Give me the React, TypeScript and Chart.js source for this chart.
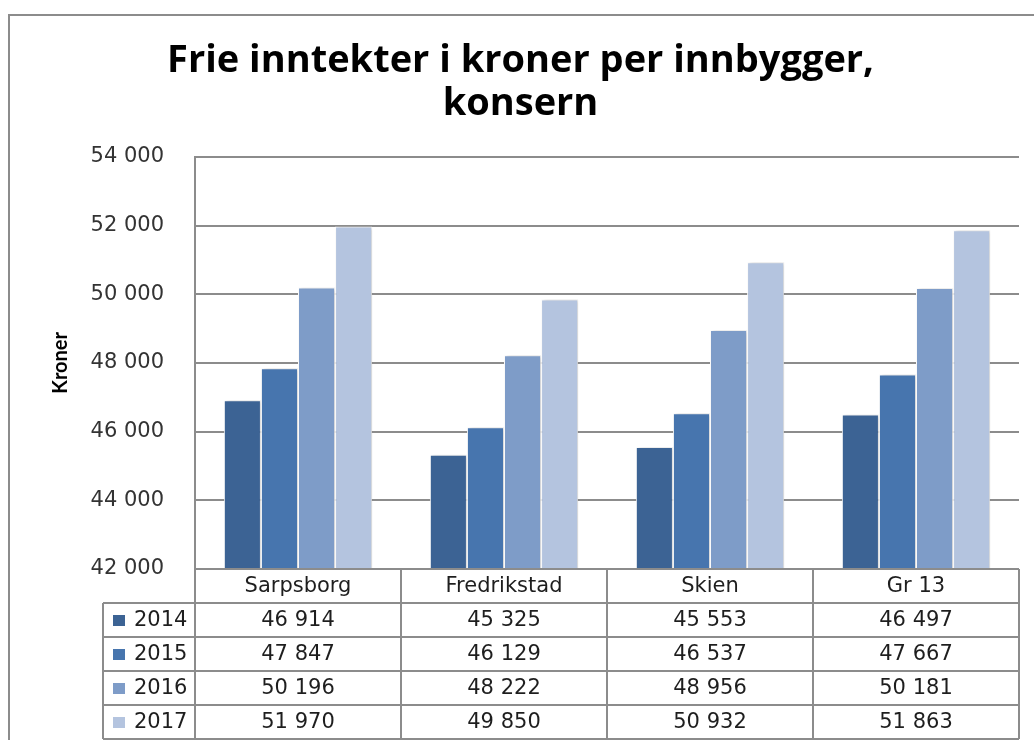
import { useEffect, useRef } from 'react';
import { Chart, registerables } from 'chart.js';

Chart.register(...registerables);

const categories = ['Sarpsborg', 'Fredrikstad', 'Skien', 'Gr 13'];
const seriesLabels = ['2014', '2015', '2016', '2017'];
const values2014 = [46914, 45325, 45553, 46497];
const values2015 = [47847, 46129, 46537, 47667];
const values2016 = [50196, 48222, 48956, 50181];
const values2017 = [51970, 49850, 50932, 51863];
const seriesColors = ['#3C6394', '#4775AE', '#7E9CC8', '#B4C4DF'];
const titleLines = ['Frie inntekter i kroner per innbygger,', 'konsern'];
const yAxisTitle = 'Kroner';
const yMin = 42000;
const yMax = 54000;
const yStep = 2000;

const seriesValues = [values2014, values2015, values2016, values2017];

const fmt = (v: number) => String(Math.round(v)).replace(/\B(?=(\d{3})+(?!\d))/g, ' ');

const LINE = '#8c8c8c';
const TEXT = '#1e1e1e';
const TABLE_FONT = '21px "DejaVu Sans"';

const framePlugin = {
  id: 'frame',
  beforeDraw(chart: any) {
    const { ctx, width, height } = chart;
    ctx.save();
    ctx.fillStyle = '#ffffff';
    ctx.fillRect(0, 0, width, height);
    ctx.restore();
  },
  afterDraw(chart: any) {
    const { ctx, width, height } = chart;
    ctx.save();
    ctx.strokeStyle = LINE;
    ctx.lineWidth = 2;
    ctx.beginPath();
    ctx.moveTo(9, height);
    ctx.lineTo(9, 15);
    ctx.lineTo(width, 15);
    ctx.stroke();
    ctx.restore();
  },
};

const shadowPlugin = {
  id: 'barShadow',
  beforeDatasetsDraw(chart: any) {
    const { ctx } = chart;
    ctx.save();
    ctx.shadowColor = 'rgba(0,0,0,0.18)';
    ctx.shadowBlur = 4;
    ctx.shadowOffsetX = 2;
    ctx.shadowOffsetY = 0;
  },
  afterDatasetsDraw(chart: any) {
    chart.ctx.restore();
  },
};

const tablePlugin = {
  id: 'dataTable',
  afterDraw(chart: any) {
    const { ctx, chartArea, scales } = chart;
    const x = scales.x;
    const n = categories.length;
    const colW = (chartArea.right - chartArea.left) / n;
    const rowH = 34;
    const top = chartArea.bottom;
    const left = chartArea.left;
    const right = chartArea.right;
    const legendLeft = 103;
    const rows = seriesLabels.length;
    const bottom = top + rowH * (rows + 1);

    ctx.save();
    ctx.strokeStyle = LINE;
    ctx.lineWidth = 2;
    ctx.beginPath();
    ctx.moveTo(left, top);
    ctx.lineTo(right, top);
    for (let r = 1; r <= rows + 1; r++) {
      const y = top + r * rowH;
      ctx.moveTo(legendLeft, y);
      ctx.lineTo(right, y);
    }
    ctx.moveTo(legendLeft, top + rowH);
    ctx.lineTo(legendLeft, bottom);
    for (let i = 0; i < n; i++) {
      const cx = x.getPixelForValue(i);
      const xl = cx - colW / 2;
      ctx.moveTo(xl, top);
      ctx.lineTo(xl, bottom);
    }
    ctx.moveTo(right, top);
    ctx.lineTo(right, bottom);
    ctx.stroke();

    ctx.font = TABLE_FONT;
    ctx.fillStyle = TEXT;
    ctx.textBaseline = 'middle';
    ctx.textAlign = 'center';
    for (let i = 0; i < n; i++) {
      const cx = x.getPixelForValue(i);
      ctx.fillText(categories[i], cx, top + rowH / 2 + 1);
      for (let r = 0; r < rows; r++) {
        ctx.fillText(fmt(seriesValues[r][i]), cx, top + (r + 1) * rowH + rowH / 2 + 1);
      }
    }
    ctx.textAlign = 'left';
    for (let r = 0; r < rows; r++) {
      const cy = top + (r + 1) * rowH + rowH / 2;
      ctx.fillStyle = seriesColors[r];
      ctx.fillRect(113, cy - 5, 12, 11);
      ctx.fillStyle = TEXT;
      ctx.fillText(seriesLabels[r], 134, cy + 1);
    }
    ctx.restore();
  },
};

export default function App() {
  const canvasRef = useRef<HTMLCanvasElement | null>(null);

  useEffect(() => {
    const canvas = canvasRef.current;
    if (!canvas) return;
    const chart = new Chart(canvas, {
      type: 'bar',
      data: {
        labels: categories,
        datasets: seriesLabels.map((label, i) => ({
          label,
          data: seriesValues[i],
          backgroundColor: seriesColors[i],
          borderColor: '#ffffff',
          borderWidth: 1,
          categoryPercentage: 0.72,
          barPercentage: 1,
        })),
      },
      options: {
        animation: false,
        responsive: false,
        devicePixelRatio: 1,
        layout: { padding: { left: 22, right: 15, top: 0, bottom: 171 } },
        plugins: {
          legend: { display: false },
          tooltip: { enabled: false },
          title: {
            display: true,
            text: titleLines,
            color: '#000000',
            font: { family: '"Open Sans"', weight: 'bold', size: 38, lineHeight: 1.13 },
            padding: { top: 40, bottom: 31 },
          },
        },
        scales: {
          x: {
            display: false,
          },
          y: {
            min: yMin,
            max: yMax,
            afterFit(scale: any) {
              scale.width = 173;
            },
            ticks: {
              stepSize: yStep,
              padding: 31,
              color: '#333333',
              font: { family: 'DejaVu Sans', size: 21 },
              callback: (v: any) => fmt(Number(v)),
            },
            grid: {
              color: LINE,
              lineWidth: 2,
              drawTicks: false,
            },
            border: { color: LINE, width: 2 },
            title: {
              display: true,
              text: yAxisTitle,
              color: '#000000',
              font: { family: 'Lato', weight: 'bold', size: 20 },
              padding: { top: 27, bottom: 0 },
            },
          },
        },
      },
      plugins: [framePlugin, shadowPlugin, tablePlugin],
    });
    return () => chart.destroy();
  }, []);

  return (
    <div style={{ position: 'absolute', left: 0, top: 0, width: 1034, height: 740, background: '#fff' }}>
      <canvas ref={canvasRef} width={1034} height={740} style={{ display: 'block', width: 1034, height: 740 }} />
    </div>
  );
}
